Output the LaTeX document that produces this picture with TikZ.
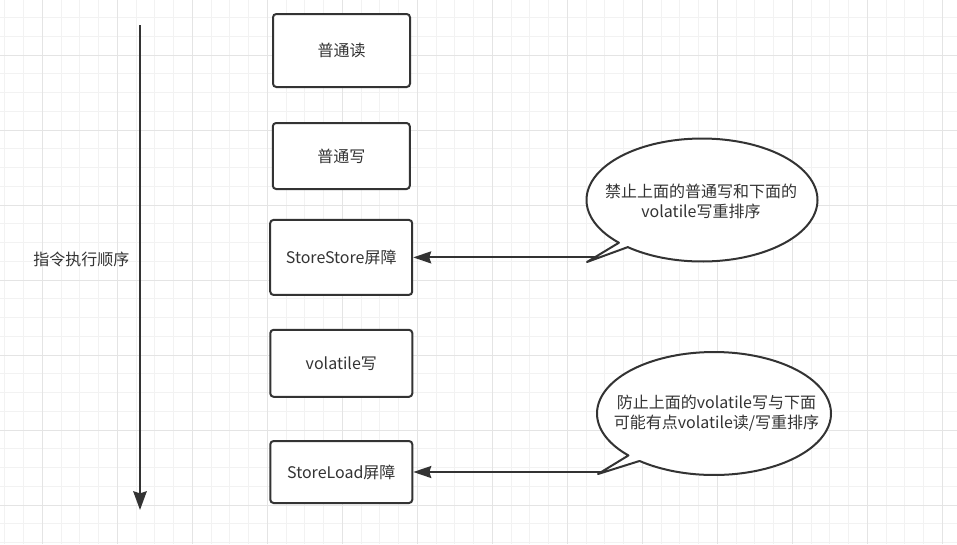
\documentclass[tikz,border=0pt]{standalone}
\usepackage{fontspec}
\newfontfamily\cjk{Noto Sans CJK SC}
\usetikzlibrary{arrows.meta}
\definecolor{ink}{HTML}{333333}
\definecolor{gridminor}{HTML}{F2F2F2}
\definecolor{gridmajor}{HTML}{E4E4E4}
\tikzset{
  stepbox/.style={draw=ink, line width=1.5pt, rounded corners=2.5pt, fill=white,
    font=\cjk\fontsize{12pt}{15pt}\selectfont, text=ink, inner sep=0pt, align=center},
  label text/.style={font=\cjk\fontsize{12pt}{15pt}\selectfont, text=ink, align=center, inner sep=0pt},
  bubble/.style={draw=ink, line width=1.5pt, fill=white, line join=round},
  conn/.style={draw=ink, line width=1.5pt, -{Stealth[length=13.5pt,width=9pt,inset=1.5pt]}},
  flow/.style={draw=ink, line width=1.9pt, -{Stealth[length=14pt,width=10pt,inset=1.5pt]}},
}
\begin{document}
\begin{tikzpicture}[x=0.75pt, y=-0.75pt]
\useasboundingbox (0,0) rectangle (957,544);
\fill[white] (0,0) rectangle (957,544);
% grid
\begin{scope}
\clip (0,0) rectangle (957,544);
\foreach \k in {0,...,51} {
  \pgfmathsetmacro{\gx}{4.8+18.75*\k}
  \draw[gridminor, line width=0.75pt] (\gx,0) -- (\gx,544);
}
\foreach \k in {0,...,29} {
  \pgfmathsetmacro{\gy}{-1.25+18.75*\k}
  \draw[gridminor, line width=0.75pt] (0,\gy) -- (957,\gy);
}
\foreach \k in {0,...,12} {
  \pgfmathsetmacro{\gx}{42.3+75*\k}
  \draw[gridmajor, line width=0.75pt] (\gx,0) -- (\gx,544);
}
\foreach \k in {0,...,7} {
  \pgfmathsetmacro{\gy}{55+75*\k}
  \draw[gridmajor, line width=0.75pt] (0,\gy) -- (957,\gy);
}
\end{scope}

% execution order arrow
\coordinate (top) at (140,25);
\coordinate (bottom) at (140,510);
\draw[flow] (top) -- (bottom);
\node[label text] (order) at (81.5,259) {指令执行顺序};

% boxes
\node[stepbox, minimum width=102.75pt, minimum height=54.75pt] (b1) at (341.5,50.5) {普通读};
\node[stepbox, minimum width=102.75pt, minimum height=49.5pt] (b2) at (341.3,156) {普通写};
\node[stepbox, minimum width=106.5pt, minimum height=56.25pt] (b3) at (341.2,257.4) {StoreStore屏障};
\node[stepbox, minimum width=106.5pt, minimum height=50.25pt] (b4) at (341.3,363.3) {volatile写};
\node[stepbox, minimum width=106.5pt, minimum height=46.5pt] (b5) at (341.3,472) {StoreLoad屏障};

% callout 1
\draw[bubble] ({702+115.5*cos(136)},{200+61.5*sin(136)}) -- (587,262) --
  ({702+115.5*cos(130)},{200+61.5*sin(130)}) --
  plot[domain=130:-224, samples=140] ({702+115.5*cos(\x)},{200+61.5*sin(\x)}) -- cycle;
\node[label text] (c1text) at (701,201.5) {禁止上面的普通写和下面的\\volatile写重排序};

% callout 2
\draw[bubble] ({714+117*cos(137)},{413.5+61.5*sin(137)}) -- (598,474) --
  ({714+117*cos(129.5)},{413.5+61.5*sin(129.5)}) --
  plot[domain=129.5:-223, samples=140] ({714+117*cos(\x)},{413.5+61.5*sin(\x)}) -- cycle;
\node[label text] (c2text) at (716.5,413) {防止上面的volatile写与下面\\可能有点volatile读/写重排序};

% connectors
\coordinate (t1) at (595,257.4);
\coordinate (t2) at (601,472);
\draw[conn] (t1) -- (b3.east);
\draw[conn] (t2) -- (b5.east);
\end{tikzpicture}
\end{document}
